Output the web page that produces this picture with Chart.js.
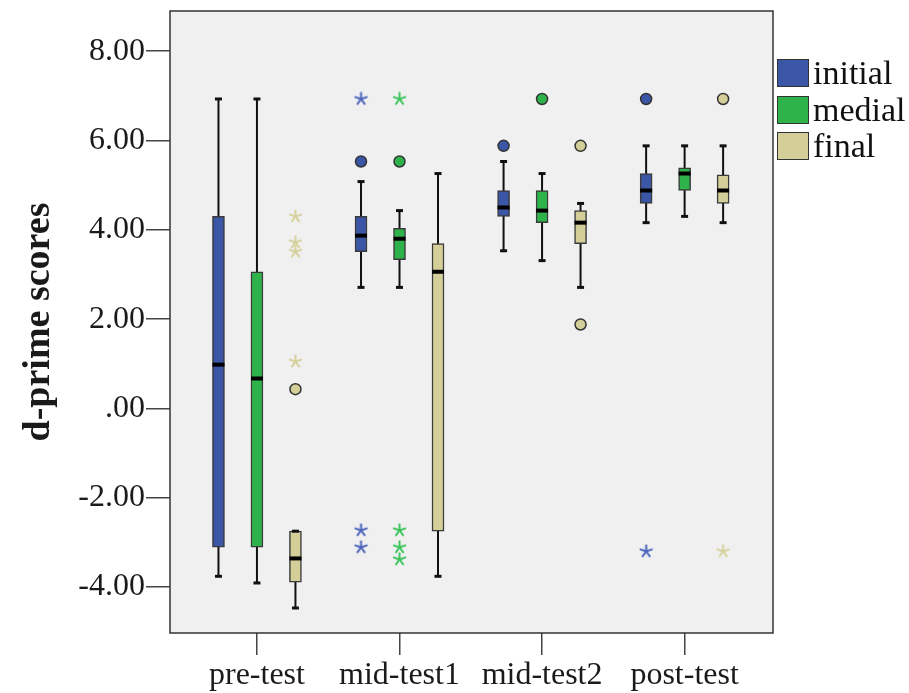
<!DOCTYPE html>
<html>
<head>
<meta charset="utf-8">
<script src="https://cdn.jsdelivr.net/npm/chart.js@4.4.1/dist/chart.umd.min.js"></script>
<style>
  body { margin: 0; background: #fff; }
  #wrap { position: relative; width: 909px; height: 693px; }
  #legend { position: absolute; left: 777px; top: 55px; font-family: "Liberation Serif", "Times New Roman", serif; font-size: 34px; color: #111; }
  #legend .item { height: 36.5px; display: flex; align-items: center; }
  #legend .sw { width: 30px; height: 26px; border: 1.5px solid #333; margin-right: 4px; }
</style>
</head>
<body>
<div id="wrap">
  <canvas id="c" width="909" height="693"></canvas>
  <div id="legend"></div>
</div>
<script>
var categories = ['pre-test', 'mid-test1', 'mid-test2', 'post-test'];
var groups = ['initial', 'medial', 'final'];
var fills = ['#3b56a6', '#2db34a', '#d4cf98'];
var starColors = ['#4a63bb', '#3cc45c', '#d6d09c'];
var yTicks = [-4, -2, 0, 2, 4, 6, 8];

// whisker low, q1, median, q3, whisker high per category
var initialLow = [-3.76, 2.71, 3.53, 4.16];
var initialQ1 = [-3.11, 3.51, 4.30, 4.59];
var initialMed = [0.98, 3.87, 4.50, 4.88];
var initialQ3 = [4.30, 4.30, 4.88, 5.26];
var initialHigh = [6.93, 5.08, 5.53, 5.88];
var initialCircles = [[], [5.53], [5.88], [6.93]];
var initialStars = [[], [6.93, -2.73, -3.11], [], [-3.20]];

var medialLow = [-3.91, 2.71, 3.31, 4.30];
var medialQ1 = [-3.11, 3.33, 4.16, 4.88];
var medialMed = [0.67, 3.80, 4.43, 5.26];
var medialQ3 = [3.06, 4.03, 4.88, 5.39];
var medialHigh = [6.93, 4.43, 5.26, 5.88];
var medialCircles = [[], [5.53], [6.93], []];
var medialStars = [[], [6.93, -2.73, -3.11, -3.38], [], []];

var finalLow = [-4.47, -3.76, 2.71, 4.16];
var finalQ1 = [-3.89, -2.75, 3.69, 4.59];
var finalMed = [-3.36, 3.06, 4.16, 4.88];
var finalQ3 = [-2.75, 3.69, 4.43, 5.23];
var finalHigh = [-2.75, 5.26, 4.59, 5.88];
var finalCircles = [[0.43], [], [5.88, 1.88], [6.93]];
var finalStars = [[4.30, 3.72, 3.51, 1.05], [], [], [-3.20]];

var series = [
  { low: initialLow, q1: initialQ1, med: initialMed, q3: initialQ3, high: initialHigh, circles: initialCircles, stars: initialStars },
  { low: medialLow, q1: medialQ1, med: medialMed, q3: medialQ3, high: medialHigh, circles: medialCircles, stars: medialStars },
  { low: finalLow, q1: finalQ1, med: finalMed, q3: finalQ3, high: finalHigh, circles: finalCircles, stars: finalStars }
];
var offsets = [-0.27, 0, 0.27];

Chart.defaults.font.family = '"Liberation Serif", "Times New Roman", serif';
Chart.defaults.color = '#1a1a1a';

function asterisk(color) {
  var c = document.createElement('canvas');
  c.width = c.height = 15;
  var g = c.getContext('2d');
  g.strokeStyle = color;
  g.lineWidth = 2;
  g.lineCap = 'round';
  for (var k = 0; k < 5; k++) {
    var a = -Math.PI / 2 + k * 2 * Math.PI / 5;
    g.beginPath();
    g.moveTo(7.5, 7.5);
    g.lineTo(7.5 + 6 * Math.cos(a), 7.5 + 6 * Math.sin(a));
    g.stroke();
  }
  return c;
}

var datasets = [];
series.forEach(function(s, gi) {
  var whisk = [], boxes = [], meds = [], caps = [], circ = [], stars = [];
  categories.forEach(function(cat, ci) {
    var x = ci + 1 + offsets[gi];
    whisk.push({ x: x, y: s.low[ci] }, { x: x, y: s.high[ci] }, { x: x, y: null });
    boxes.push({ x: x, y: [s.q1[ci], s.q3[ci]] });
    meds.push({ x: x, y: s.med[ci] });
    caps.push({ x: x, y: s.low[ci] }, { x: x, y: s.high[ci] });
    s.circles[ci].forEach(function(v) { circ.push({ x: x, y: v }); });
    s.stars[ci].forEach(function(v) { stars.push({ x: x, y: v }); });
  });
  datasets.push({
    type: 'line', label: groups[gi] + ' whiskers', data: whisk, order: 4,
    borderColor: '#111', borderWidth: 2, pointRadius: 0, spanGaps: false
  });
  datasets.push({
    type: 'bar', label: groups[gi], data: boxes, order: 3, grouped: false,
    barThickness: 12, backgroundColor: fills[gi], borderColor: '#3a3a3a',
    borderWidth: 1.5, borderSkipped: false
  });
  datasets.push({
    type: 'scatter', label: groups[gi] + ' caps', data: caps, order: 2,
    pointStyle: 'line', pointRadius: 3.5, pointBorderWidth: 3, pointBorderColor: '#111'
  });
  datasets.push({
    type: 'scatter', label: groups[gi] + ' median', data: meds, order: 1,
    pointStyle: 'line', pointRadius: 6, pointBorderWidth: 4, pointBorderColor: '#000'
  });
  datasets.push({
    type: 'scatter', label: groups[gi] + ' outliers', data: circ, order: 0,
    pointStyle: 'circle', pointRadius: 5.5, pointBackgroundColor: fills[gi],
    pointBorderColor: '#333', pointBorderWidth: 1.5
  });
  datasets.push({
    type: 'scatter', label: groups[gi] + ' extremes', data: stars, order: 0,
    pointStyle: asterisk(starColors[gi]), pointRadius: 7
  });
});

var plotFrame = {
  id: 'plotFrame',
  beforeDraw: function(chart) {
    var a = chart.chartArea, g = chart.ctx;
    g.save();
    g.fillStyle = '#f0f0f0';
    g.fillRect(a.left, a.top, a.right - a.left, a.bottom - a.top);
    g.restore();
  },
  afterDatasetsDraw: function(chart) {
    var a = chart.chartArea, g = chart.ctx;
    g.save();
    g.strokeStyle = '#333';
    g.lineWidth = 1.5;
    g.strokeRect(a.left, a.top, a.right - a.left, a.bottom - a.top);
    g.restore();
  }
};

new Chart(document.getElementById('c'), {
  type: 'bar',
  data: { datasets: datasets },
  options: {
    responsive: false,
    animation: false,
    layout: { padding: { top: 11, right: 136, left: 0, bottom: 0 } },
    plugins: { legend: { display: false }, tooltip: { enabled: false } },
    scales: {
      x: {
        type: 'linear', min: 0.39, max: 4.62, offset: false,
        afterBuildTicks: function(s) { s.ticks = categories.map(function(c, i) { return { value: i + 1 }; }); },
        afterFit: function(s) { s.height = 60; s.paddingLeft = 0; s.paddingRight = 0; },
        ticks: { font: { size: 32 }, padding: 1, maxRotation: 0, autoSkip: false,
          callback: function(v) { return categories[v - 1]; } },
        grid: { offset: false, drawOnChartArea: false, tickLength: 22, color: '#444', lineWidth: 1.5 },
        border: { display: false }
      },
      y: {
        min: -5.03, max: 8.9,
        afterBuildTicks: function(s) { s.ticks = yTicks.map(function(v) { return { value: v }; }); },
        afterFit: function(s) { s.width = 170; s.paddingTop = 0; s.paddingBottom = 0; },
        ticks: { font: { size: 32 }, padding: 1,
          callback: function(v) { return v === 0 ? '.00' : v.toFixed(2); } },
        grid: { drawOnChartArea: false, tickLength: 24, color: '#444', lineWidth: 1.5 },
        border: { display: false },
        title: { display: true, text: 'd-prime scores', font: { size: 38, weight: 'bold' }, padding: { top: 16 } }
      }
    }
  },
  plugins: [plotFrame]
});

var legend = document.getElementById('legend');
groups.forEach(function(name, i) {
  var row = document.createElement('div');
  row.className = 'item';
  var sw = document.createElement('span');
  sw.className = 'sw';
  sw.style.background = fills[i];
  var t = document.createElement('span');
  t.textContent = name;
  row.appendChild(sw);
  row.appendChild(t);
  legend.appendChild(row);
});
</script>
</body>
</html>
